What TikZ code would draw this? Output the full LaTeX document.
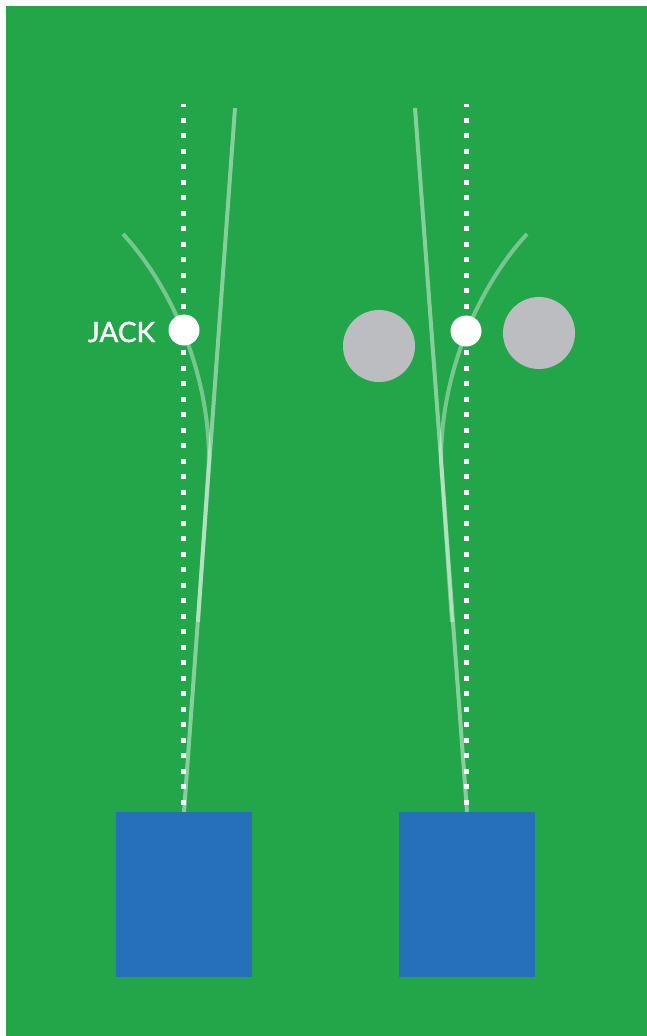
\documentclass[tikz,border=0pt]{standalone}
\usepackage{fontspec}
\setsansfont{Lato}
\newfontfamily\jackfont{Lato}[FakeBold=1.3]
\usetikzlibrary{positioning}
\definecolor{grass}{HTML}{23A64A}
\definecolor{matblue}{HTML}{2670B9}
\definecolor{bowlgrey}{HTML}{BCBDC1}

\begin{document}
\begin{tikzpicture}[x=1pt, y=-1pt,
  every node/.style={font=\sffamily, inner sep=0pt},
  mat/.style={rectangle, fill=matblue, minimum width=136pt, minimum height=165pt},
  jack/.style={circle, fill=white, minimum size=31pt},
  bowl/.style={circle, fill=bowlgrey, minimum size=72pt},
  dots/.style={white, line width=5pt, dash pattern=on 5pt off 10.5pt, shorten <=7pt},
  delivery/.style={white, opacity=0.45, line width=4pt},
  curl/.style={white, opacity=0.38, line width=4pt}
]
\useasboundingbox (0,0) rectangle (647,1036);
\fill[white] (0,0) rectangle (647,1036);
\fill[grass] (6,6) rectangle (647,1036);

% mats
\node[mat] (lmat) at (184,894.5) {};
\node[mat] (rmat) at (467,894.5) {};

% ends of the lines
\coordinate (ltop)   at (183.5,104);
\coordinate (rtop)   at (466.5,104);
\coordinate (lfar)   at (235,108);
\coordinate (rfar)   at (415,108);
\coordinate (lcurl)  at (123,234);
\coordinate (rcurl)  at (527,234);
\coordinate (lmerge) at (198,622);
\coordinate (rmerge) at (452,622);

% centre lines
\draw[dots] (lmat.north -| ltop) -- (ltop);
\draw[dots] (rmat.north -| rtop) -- (rtop);

% deliveries
\draw[delivery] (lmat.north) -- (lfar);
\draw[delivery] (rmat.north) -- (rfar);
\draw[curl] (lcurl) .. controls (170,285) and (209,370) .. (209,460) -- (lmerge);
\draw[curl] (rcurl) .. controls (480,285) and (441,370) .. (441,460) -- (rmerge);

% jacks and bowls
\node[jack] (ljack) at (184,330) {};
\node[jack] (rjack) at (466,331) {};
\node[bowl] (bowla) at (379,346) {};
\node[bowl] (bowlb) at (539,333) {};
\node[left=13pt of ljack, yshift=-2pt, text=white, font=\jackfont\fontsize{28}{28}\selectfont] (jacklabel) {JACK};
\end{tikzpicture}
\end{document}
